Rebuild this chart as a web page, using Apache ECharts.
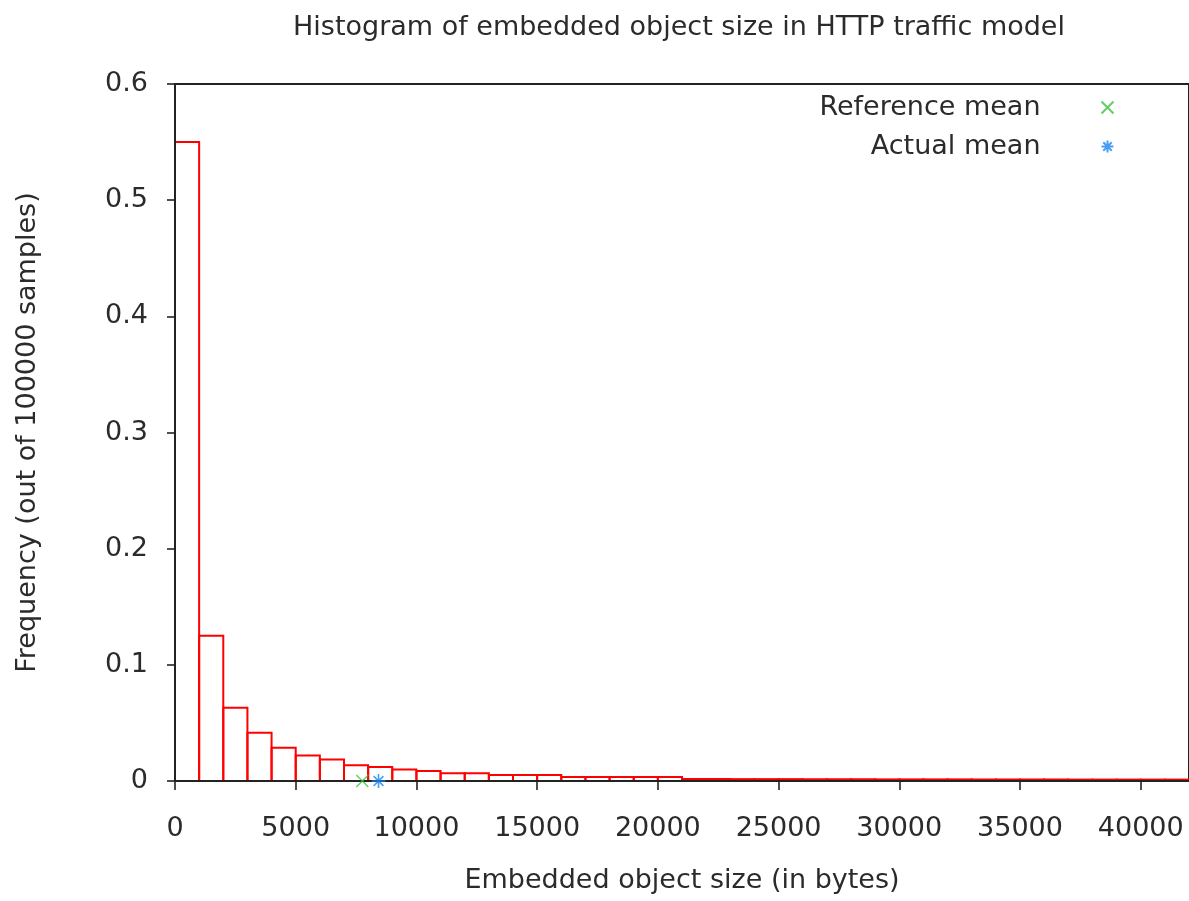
<!DOCTYPE html>
<html>
<head>
<meta charset="utf-8">
<script src="https://cdn.jsdelivr.net/npm/echarts@6/dist/echarts.min.js"></script>
<style>
  html, body { margin: 0; padding: 0; background: #fff; }
  #main { width: 1189px; height: 901px; }
</style>
</head>
<body>
<div id="main"></div>
<script>
// histogram bins, 1000 bytes wide
const binWidth = 1000;
const binStarts = [
  0, 1000, 2000, 3000, 4000, 5000, 6000, 7000, 8000, 9000,
  10000, 11000, 12000, 13000, 14000, 15000, 16000, 17000, 18000, 19000,
  20000, 21000, 22000, 23000, 24000, 25000, 26000, 27000, 28000, 29000,
  30000, 31000, 32000, 33000, 34000, 35000, 36000, 37000, 38000, 39000,
  40000, 41000
];
const frequency = [
  0.550, 0.125, 0.063, 0.0415, 0.0286, 0.022, 0.0185, 0.0135, 0.012, 0.010,
  0.0086, 0.0066, 0.0066, 0.0052, 0.0052, 0.0052, 0.0035, 0.0035, 0.0035, 0.0035,
  0.0035, 0.0017, 0.0017, 0.0016, 0.0016, 0.0016, 0.0015, 0.0015, 0.0015, 0.0014,
  0.0014, 0.0014, 0.0014, 0.0013, 0.0013, 0.0013, 0.0013, 0.0012, 0.0012, 0.0012,
  0.0012, 0.0012
];
const referenceMean = [[7758, 0]];
const actualMean = [[8430, 0]];
const yTicks = [0, 0.1, 0.2, 0.3, 0.4, 0.5, 0.6];

const font = 'DejaVu Sans';
const fontSize = 27;
const textColor = '#2b2b2b';

var chartDom = document.getElementById('main');
var myChart = echarts.init(chartDom);

const histData = binStarts.map((s, i) => [s, s + binWidth, frequency[i]]);

var option = {
  animation: false,
  backgroundColor: '#fff',
  title: {
    text: 'Histogram of embedded object size in HTTP traffic model',
    left: 679,
    textAlign: 'center',
    top: 14,
    padding: 0,
    textStyle: { fontFamily: font, fontSize: fontSize, fontWeight: 'normal', color: textColor }
  },
  legend: {
    orient: 'vertical',
    right: 68,
    top: 89,
    align: 'right',
    itemWidth: 12,
    itemHeight: 12,
    itemGap: 12,
    textStyle: {
      fontFamily: font, fontSize: fontSize, color: textColor,
      lineHeight: 27, padding: [0, 56, 0, 0]
    },
    data: ['Reference mean', 'Actual mean']
  },
  grid: {
    left: 175,
    right: -4,
    top: 84,
    bottom: 120,
    show: true,
    borderColor: '#222',
    borderWidth: 2
  },
  xAxis: {
    type: 'value',
    min: 0,
    max: 42000,
    interval: 5000,
    z: 3,
    name: 'Embedded object size (in bytes)',
    nameLocation: 'middle',
    nameGap: 86,
    nameTextStyle: { fontFamily: font, fontSize: fontSize, color: textColor },
    splitLine: { show: false },
    axisLine: { lineStyle: { color: '#222', width: 2 } },
    axisTick: { length: 9, lineStyle: { color: '#222', width: 1.6 } },
    axisLabel: {
      margin: 34,
      showMaxLabel: false,
      fontFamily: font, fontSize: fontSize, color: textColor,
      formatter: v => String(v)
    }
  },
  yAxis: {
    type: 'value',
    min: yTicks[0],
    max: yTicks[yTicks.length - 1],
    interval: 0.1,
    z: 3,
    name: 'Frequency (out of 100000 samples)',
    nameLocation: 'middle',
    nameGap: 134,
    nameTextStyle: { fontFamily: font, fontSize: fontSize, color: textColor },
    splitLine: { show: false },
    axisLine: { lineStyle: { color: '#222', width: 2 } },
    axisTick: { length: 8, lineStyle: { color: '#222', width: 1.6 } },
    axisLabel: {
      margin: 27,
      fontFamily: font, fontSize: fontSize, color: textColor,
      formatter: v => String(Math.round(v * 10) / 10)
    }
  },
  series: [
    {
      name: 'Histogram',
      type: 'custom',
      data: histData,
      encode: { x: [0, 1], y: 2 },
      renderItem: function (params, api) {
        const p0 = api.coord([api.value(0), 0]);
        const p1 = api.coord([api.value(1), api.value(2)]);
        return {
          type: 'rect',
          shape: { x: p0[0], y: p1[1], width: p1[0] - p0[0], height: p0[1] - p1[1] },
          style: { fill: 'none', stroke: '#ff0000', lineWidth: 2 }
        };
      },
      z: 1
    },
    {
      name: 'Reference mean',
      type: 'scatter',
      data: referenceMean,
      clip: false,
      symbol: 'path://M0,0L10,10M10,0L0,10',
      symbolSize: 12,
      itemStyle: { color: 'none', borderColor: '#3cc03c', borderWidth: 1.4 },
      z: 5
    },
    {
      name: 'Actual mean',
      type: 'scatter',
      data: actualMean,
      clip: false,
      symbol: 'path://M5,0L5,10M0,5L10,5M1.5,1.5L8.5,8.5M8.5,1.5L1.5,8.5',
      symbolSize: 14,
      itemStyle: { color: 'none', borderColor: '#1a86f0', borderWidth: 1.6 },
      z: 5
    }
  ]
};

option && myChart.setOption(option);
</script>
</body>
</html>
